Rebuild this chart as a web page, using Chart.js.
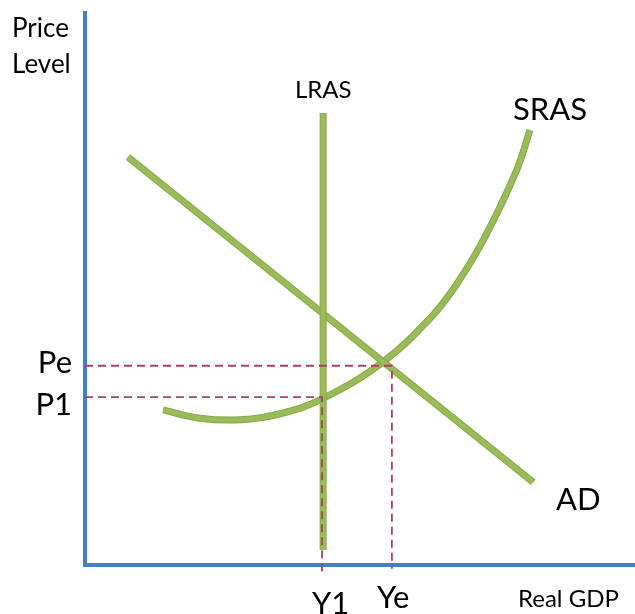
<!DOCTYPE html>
<html>
<head>
<meta charset="utf-8">
<script src="https://cdn.jsdelivr.net/npm/chart.js@4/dist/chart.umd.min.js"></script>
<style>
  html, body { margin: 0; padding: 0; background: #fff; }
  #wrap { width: 635px; height: 614px; }
</style>
</head>
<body>
<div id="wrap"><canvas id="adas" width="635" height="614"></canvas></div>
<script>
// --- data (0-100 conceptual units) ---
const adX = [7.8, 81.5];
const adY = [73.9, 15.0];

const lrasX = [43.3, 43.3];
const lrasY = [81.9, 2.7];

const srasX = [14.2, 20.9, 28.2, 35.5, 43.1, 54.2, 63.1, 67.6, 72.7, 78.5, 80.9];
const srasY = [28.1, 26.6, 26.3, 27.4, 30.1, 36.8, 45.1, 50.9, 59.4, 71.6, 78.8];

// equilibrium guides: [Pe, P1] and matching outputs [Ye, Y1]
const priceLevels = [36.1, 30.4];
const outputs = [55.8, 43.1];
const guideBottom = [-0.7, -1.8];

const priceLabels = ['Pe', 'P1'];
const outputLabels = ['Ye', 'Y1'];

const green = '#9bbb59';
const greenEdge = '#88a84a';
const guideColor = '#a8435f';
const axisColor = '#4a7ebb';

function pts(xs, ys) {
    return xs.map((x, i) => ({ x: x, y: ys[i] }));
}

// dashed guide lines from the price axis to the curve and down to the GDP axis
const guideSets = priceLevels.map((p, i) => ({
    label: priceLabels[i] + ' guide',
    data: [{ x: 0, y: p }, { x: outputs[i], y: p }, { x: outputs[i], y: guideBottom[i] }],
    borderColor: guideColor,
    borderWidth: 1.8,
    borderDash: [8, 5],
    pointRadius: 0,
    tension: 0,
    clip: false
}));

function curve(name, xs, ys, smooth) {
    return [
        {
            label: name,
            data: pts(xs, ys),
            borderColor: green,
            borderWidth: 5,
            pointRadius: 0,
            tension: smooth ? 0.4 : 0,
            clip: false
        },
        {
            label: name + ' edge',
            data: pts(xs, ys),
            borderColor: greenEdge,
            borderWidth: 7,
            pointRadius: 0,
            tension: smooth ? 0.4 : 0,
            clip: false
        }
    ];
}

const datasets = guideSets
    .concat(curve('LRAS', lrasX, lrasY, false))
    .concat(curve('AD', adX, adY, false))
    .concat(curve('SRAS', srasX, srasY, true));

// text labels of the diagram
const textPlugin = {
    id: 'diagramText',
    afterDatasetsDraw(chart) {
        const c = chart.ctx;
        const fam = 'Lato, "Open Sans", sans-serif';
        const items = [
            ['Price', 12, 37, 26, 'left'],
            ['Level', 12, 73, 26, 'left'],
            ['LRAS', 295, 98, 24, 'left'],
            ['SRAS', 513, 120, 31, 'left'],
            ['AD', 556, 510, 31, 'left'],
            [priceLabels[0], 72, 373, 31, 'right'],
            [priceLabels[1], 72, 415, 31, 'right'],
            [outputLabels[1], 312, 614, 31, 'left'],
            [outputLabels[0], 377, 608, 31, 'left'],
            ['Real GDP', 518, 607, 24, 'left']
        ];
        c.save();
        c.fillStyle = '#000';
        c.textBaseline = 'alphabetic';
        items.forEach(t => {
            c.font = t[3] + 'px ' + fam;
            c.textAlign = t[4];
            c.fillText(t[0], t[1], t[2]);
        });
        c.restore();
    }
};

new Chart(document.getElementById('adas'), {
    type: 'line',
    data: { datasets: datasets },
    options: {
        responsive: false,
        animation: false,
        layout: { padding: { left: 85, top: 13, right: 0, bottom: 49 } },
        scales: {
            x: {
                type: 'linear',
                min: 0,
                max: 100,
                grid: { display: false, drawTicks: false },
                ticks: { display: false },
                border: { display: true, color: axisColor, width: 4 }
            },
            y: {
                type: 'linear',
                min: 0,
                max: 100,
                grid: { display: false, drawTicks: false },
                ticks: { display: false },
                border: { display: true, color: axisColor, width: 4 }
            }
        },
        plugins: {
            legend: { display: false },
            tooltip: { enabled: false }
        }
    },
    plugins: [textPlugin]
});
</script>
</body>
</html>
